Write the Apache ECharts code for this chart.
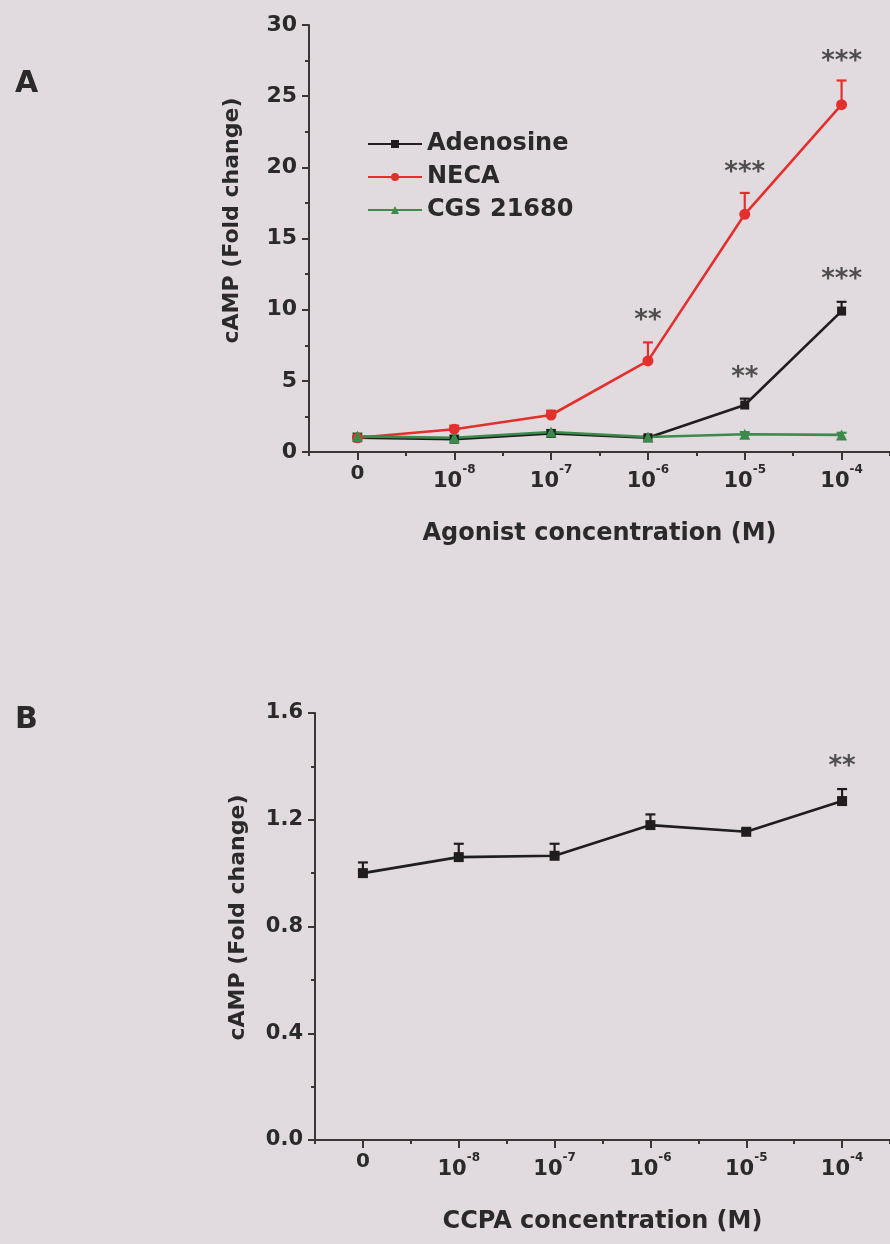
<!DOCTYPE html>
<html>
<head>
<meta charset="utf-8">
<script src="https://cdn.jsdelivr.net/npm/echarts@6/dist/echarts.min.js"></script>
<style>
html,body{margin:0;padding:0;background:#e1dbdf;}
#chart{width:890px;height:1244px;}
</style>
</head>
<body>
<div id="chart"></div>
<script>
// ---- data ----
const categories = ['0', '10^-8', '10^-7', '10^-6', '10^-5', '10^-4'];

const adenosine    = [1.0, 0.9, 1.3, 1.0, 3.3, 9.9];
const adenosineErr = [0.1, 0.1, 0.15, 0.1, 0.45, 0.65];
const neca         = [1.0, 1.6, 2.6, 6.4, 16.7, 24.4];
const necaErr      = [0.1, 0.25, 0.3, 1.3, 1.5, 1.7];
const cgs          = [1.1, 1.0, 1.4, 1.05, 1.25, 1.2];
const cgsErr       = [0.2, 0.15, 0.15, 0.1, 0.15, 0.15];

const ccpa    = [1.00, 1.06, 1.065, 1.18, 1.155, 1.27];
const ccpaErr = [0.04, 0.05, 0.045, 0.04, 0.01, 0.045];

// significance marks: [category index, value, text]
const sigA = [[3, 9.6, '**'], [4, 20.0, '***'], [5, 27.8, '***'], [4, 5.6, '**'], [5, 12.5, '***']];
const sigB = [[5, 1.42, '**']];

const yTicksA = [0, 30, 5];
const yTicksB = [0, 1.6, 0.4];

// ---- styles ----
const FONT = 'DejaVu Sans, Liberation Sans, Arial, sans-serif';
const TXT = '#2a2a2a';
const AX = '#3a3636';
const C_BLACK = '#1f1d1e';
const C_RED = '#e3302d';
const C_GREEN = '#3d8a4d';

function xLabel(v) {
  if (v === '0') return '{z|0}';
  return '{b|10}{s|' + v.split('^')[1] + '}';
}
const xRich = {
  z: {fontSize: 20, fontWeight: 'bold', color: TXT, fontFamily: FONT, lineHeight: 20, verticalAlign: 'top'},
  b: {fontSize: 21, fontWeight: 'bold', color: TXT, fontFamily: FONT, lineHeight: 28, verticalAlign: 'bottom'},
  s: {fontSize: 12, fontWeight: 'bold', color: TXT, fontFamily: FONT, lineHeight: 12, verticalAlign: 'top'}
};

function makeXAxes(grid, name) {
  return [
    {
      type: 'category', gridIndex: grid, data: categories, position: 'bottom',
      boundaryGap: true,
      axisLine: {show: true, lineStyle: {color: AX, width: 2}},
      axisTick: {show: true, length: 4, lineStyle: {color: AX, width: 2}},
      axisLabel: {show: true, margin: 12, formatter: xLabel, rich: xRich},
      name: name, nameLocation: 'middle', nameGap: 70,
      nameTextStyle: {fontSize: 24, fontWeight: 'bold', color: TXT, fontFamily: FONT},
      splitLine: {show: false}
    },
    {
      type: 'category', gridIndex: grid, data: categories, position: 'bottom',
      boundaryGap: true,
      axisLine: {show: false},
      axisTick: {show: true, alignWithLabel: true, length: 8, lineStyle: {color: AX, width: 2}},
      axisLabel: {show: false},
      splitLine: {show: false}
    }
  ];
}

function makeYAxis(grid, ticks, fmt, shiftUp, labelSize) {
  return {
    type: 'value', gridIndex: grid, min: ticks[0], max: ticks[1], interval: ticks[2],
    axisLine: {show: true, lineStyle: {color: AX, width: 2}},
    axisTick: {show: true, length: 7, lineStyle: {color: AX, width: 2}},
    minorTick: {show: true, splitNumber: 2, length: 4, lineStyle: {color: AX, width: 2}},
    axisLabel: {margin: 12, fontSize: labelSize, fontWeight: 'bold', color: TXT, fontFamily: FONT, formatter: fmt},
    splitLine: {show: false},
    name: 'cAMP (Fold change)', nameLocation: 'middle', nameGap: 66, nameRotate: 90,
    nameTextStyle: {fontSize: 22, fontWeight: 'bold', color: TXT, fontFamily: FONT, padding: [0, 0, 0, shiftUp]}
  };
}

function errSeries(vals, errs, color, xi, yi) {
  return {
    type: 'custom', xAxisIndex: xi, yAxisIndex: yi, z: 1, silent: true,
    data: vals.map((v, i) => [i, v, errs[i]]),
    renderItem: function (params, api) {
      const x = api.value(0), y = api.value(1), e = api.value(2);
      const p0 = api.coord([x, y]);
      const p1 = api.coord([x, y + e]);
      const st = {stroke: color, lineWidth: 2.2};
      return {
        type: 'group',
        children: [
          {type: 'line', shape: {x1: p0[0], y1: p0[1], x2: p1[0], y2: p1[1]}, style: st},
          {type: 'line', shape: {x1: p1[0] - 5, y1: p1[1], x2: p1[0] + 5, y2: p1[1]}, style: st}
        ]
      };
    }
  };
}

function lineSeries(name, vals, color, symbol, size, xi, yi) {
  return {
    type: 'line', name: name, xAxisIndex: xi, yAxisIndex: yi, data: vals, z: 3,
    symbol: symbol, symbolSize: size, showSymbol: true,
    lineStyle: {color: color, width: 2.6},
    itemStyle: {color: color, borderWidth: 0},
    emphasis: {disabled: true}
  };
}

function sigSeries(marks, xi, yi) {
  return {
    type: 'scatter', xAxisIndex: xi, yAxisIndex: yi, z: 5, silent: true,
    symbolSize: 1, itemStyle: {color: 'rgba(0,0,0,0)'},
    data: marks.map(m => [m[0], m[1], m[2]]),
    label: {
      show: true, position: 'inside', offset: [0, 6],
      formatter: p => p.data[2],
      fontSize: 26, fontWeight: 'bold', color: TXT, fontFamily: FONT
    }
  };
}

const option = {
  backgroundColor: '#e1dbdf',
  animation: false,
  title: [
    {text: 'A', left: 10, top: 64, textStyle: {fontSize: 30, fontWeight: 'bold', color: TXT, fontFamily: FONT}},
    {text: 'B', left: 10, top: 700, textStyle: {fontSize: 30, fontWeight: 'bold', color: TXT, fontFamily: FONT}}
  ],
  legend: {
    orient: 'vertical', left: 362, top: 127, itemGap: 9,
    itemWidth: 54, itemHeight: 10,
    data: ['Adenosine', 'NECA', 'CGS 21680'],
    textStyle: {fontSize: 24, fontWeight: 'bold', color: TXT, fontFamily: FONT, padding: [0, 0, 0, 0]}
  },
  grid: [
    {left: 309, top: 25, width: 582, height: 427},
    {left: 315, top: 713, width: 581, height: 427}
  ],
  xAxis: [].concat(makeXAxes(0, 'Agonist concentration (M)'), makeXAxes(1, 'CCPA concentration (M)')),
  yAxis: [
    makeYAxis(0, yTicksA, v => String(v), 36, 22),
    makeYAxis(1, yTicksB, v => v.toFixed(1), 18, 21)
  ],
  series: [
    errSeries(adenosine, adenosineErr, C_BLACK, 0, 0),
    errSeries(neca, necaErr, C_RED, 0, 0),
    errSeries(cgs, cgsErr, C_GREEN, 0, 0),
    lineSeries('Adenosine', adenosine, C_BLACK, 'rect', 9, 0, 0),
    lineSeries('NECA', neca, C_RED, 'circle', 11, 0, 0),
    lineSeries('CGS 21680', cgs, C_GREEN, 'triangle', 11, 0, 0),
    sigSeries(sigA, 0, 0),
    errSeries(ccpa, ccpaErr, C_BLACK, 2, 1),
    lineSeries('CCPA', ccpa, C_BLACK, 'rect', 10, 2, 1),
    sigSeries(sigB, 2, 1)
  ]
};

const chart = echarts.init(document.getElementById('chart'), null, {renderer: 'canvas'});
chart.setOption(option);
</script>
</body>
</html>
